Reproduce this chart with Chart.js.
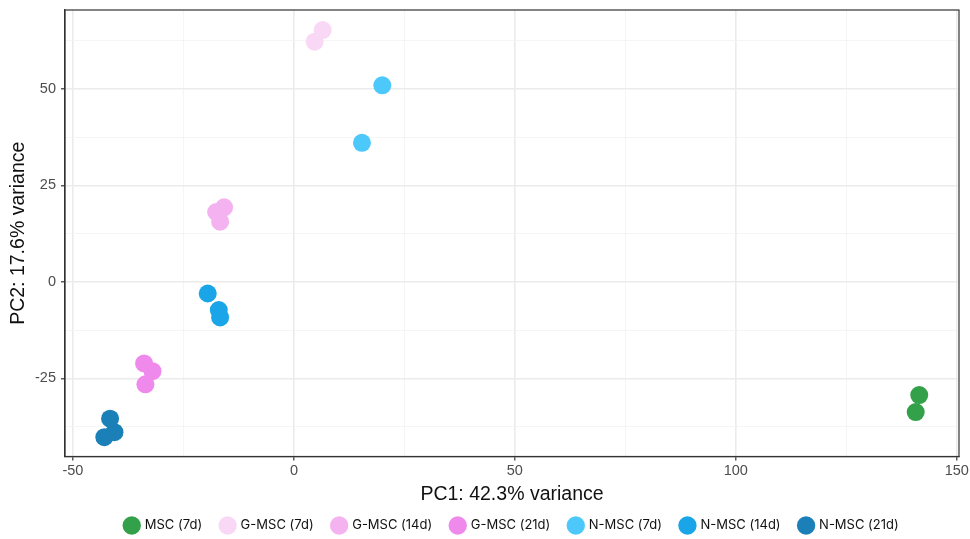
<!DOCTYPE html>
<html>
<head>
<meta charset="utf-8">
<script src="https://cdn.jsdelivr.net/npm/chart.js@4"></script>
<style>
  html, body { margin: 0; padding: 0; background: #fff; }
  #wrap { width: 970px; height: 539px; }
</style>
</head>
<body>
<div id="wrap"><canvas id="pca"></canvas></div>
<script>
// grupos e cores
var grupos = ['MSC (7d)', 'G-MSC (7d)', 'G-MSC (14d)', 'G-MSC (21d)', 'N-MSC (7d)', 'N-MSC (14d)', 'N-MSC (21d)'];
var cores = ['#33A04A', '#F9D8F6', '#F4B2F1', '#EF8AEC', '#4DC8FA', '#1BA5E9', '#1B80B8'];

// PC1 / PC2 de cada grupo
var msc7_pc1 = [141.5, 140.7];
var msc7_pc2 = [-29.3, -33.7];
var gmsc7_pc1 = [4.7, 6.5];
var gmsc7_pc2 = [62.2, 65.2];
var gmsc14_pc1 = [-15.8, -17.6, -16.7];
var gmsc14_pc2 = [19.3, 18.1, 15.6];
var gmsc21_pc1 = [-33.9, -32.0, -33.6];
var gmsc21_pc2 = [-21.1, -23.1, -26.5];
var nmsc7_pc1 = [20.0, 15.4];
var nmsc7_pc2 = [50.9, 36.0];
var nmsc14_pc1 = [-19.5, -17.0, -16.7];
var nmsc14_pc2 = [-3.0, -7.3, -9.2];
var nmsc21_pc1 = [-41.6, -40.6, -42.9];
var nmsc21_pc2 = [-35.4, -38.9, -40.2];

// ticks: principais com rótulo, secundários só linha de grade
var x_ticks = [-50, -25, 0, 25, 50, 75, 100, 125, 150];
var x_labels = ['-50', '', '0', '', '50', '', '100', '', '150'];
var y_ticks = [-37.5, -25, -12.5, 0, 12.5, 25, 37.5, 50, 62.5];
var y_labels = ['', '-25', '', '0', '', '25', '', '50', ''];

var pc1 = [msc7_pc1, gmsc7_pc1, gmsc14_pc1, gmsc21_pc1, nmsc7_pc1, nmsc14_pc1, nmsc21_pc1];
var pc2 = [msc7_pc2, gmsc7_pc2, gmsc14_pc2, gmsc21_pc2, nmsc7_pc2, nmsc14_pc2, nmsc21_pc2];

var datasets = [];
for (let i = 0; i < grupos.length; i++) {
  datasets.push({
    label: grupos[i],
    data: pc1[i].map((x, k) => ({ x: x, y: pc2[i][k] })),
    backgroundColor: cores[i],
    borderColor: cores[i],
    borderWidth: 0,
    pointRadius: 9,
    pointHoverRadius: 9
  });
}

// borda do painel (estilo theme_bw)
const painel = {
  id: 'painel',
  afterDraw(chart) {
    const a = chart.chartArea;
    const ctx = chart.ctx;
    ctx.save();
    ctx.strokeStyle = '#333333';
    ctx.lineWidth = 1.2;
    ctx.strokeRect(a.left, a.top, a.right - a.left, a.bottom - a.top);
    ctx.restore();
  }
};

function isMajor(lista, ctx) {
  return ctx.tick && lista[ctx.index] !== '';
}

new Chart(document.getElementById('pca'), {
  type: 'scatter',
  data: { datasets: datasets },
  plugins: [painel],
  options: {
    responsive: true,
    maintainAspectRatio: false,
    animation: false,
    layout: { padding: { top: 10, right: 11, left: 0, bottom: -3 } },
    plugins: {
      tooltip: { enabled: false },
      legend: {
        position: 'bottom',
        fullSize: false,
        labels: {
          usePointStyle: true,
          pointStyle: 'circle',
          padding: 19,
          color: '#111',
          font: { family: 'Inter', size: 13 }
        }
      }
    },
    scales: {
      x: {
        type: 'linear',
        min: -51.8,
        max: 150.5,
        afterBuildTicks: (s) => { s.ticks = x_ticks.map(v => ({ value: v })); },
        afterFit: (s) => { s.height = 43.5; s.paddingLeft = 0; s.paddingRight = 0; },
        border: { display: true, color: '#333333', width: 1.2 },
        grid: {
          drawTicks: true,
          tickLength: 4,
          color: (ctx) => isMajor(x_labels, ctx) ? '#EBEBEB' : '#F3F3F3',
          lineWidth: (ctx) => isMajor(x_labels, ctx) ? 1.6 : 0.8,
          tickColor: (ctx) => isMajor(x_labels, ctx) ? '#333333' : 'rgba(0,0,0,0)',
          tickWidth: 1.2
        },
        ticks: {
          padding: 2,
          maxRotation: 0,
          autoSkip: false,
          color: '#4D4D4D',
          font: { family: 'Liberation Sans', size: 14.5 },
          callback: (v, i) => x_labels[i]
        },
        title: {
          display: true,
          text: 'PC1: 42.3% variance',
          color: '#111',
          font: { family: 'Liberation Sans', size: 19.5, lineHeight: 1 },
          padding: { top: 0, bottom: -4.5 }
        }
      },
      y: {
        type: 'linear',
        min: -45.2,
        max: 70.4,
        afterBuildTicks: (s) => { s.ticks = y_ticks.map(v => ({ value: v })); },
        afterFit: (s) => { s.width = 65; s.paddingTop = 0; s.paddingBottom = 0; },
        border: { display: true, color: '#333333', width: 1.2 },
        grid: {
          drawTicks: true,
          tickLength: 4,
          color: (ctx) => isMajor(y_labels, ctx) ? '#EBEBEB' : '#F3F3F3',
          lineWidth: (ctx) => isMajor(y_labels, ctx) ? 1.6 : 0.8,
          tickColor: (ctx) => isMajor(y_labels, ctx) ? '#333333' : 'rgba(0,0,0,0)',
          tickWidth: 1.2
        },
        ticks: {
          padding: 5,
          autoSkip: false,
          color: '#4D4D4D',
          font: { family: 'Liberation Sans', size: 14.5 },
          callback: (v, i) => y_labels[i]
        },
        title: {
          display: true,
          text: 'PC2: 17.6% variance',
          color: '#111',
          font: { family: 'Liberation Sans', size: 19.5, lineHeight: 1 },
          padding: { top: 9, bottom: 0 }
        }
      }
    }
  }
});
</script>
</body>
</html>
